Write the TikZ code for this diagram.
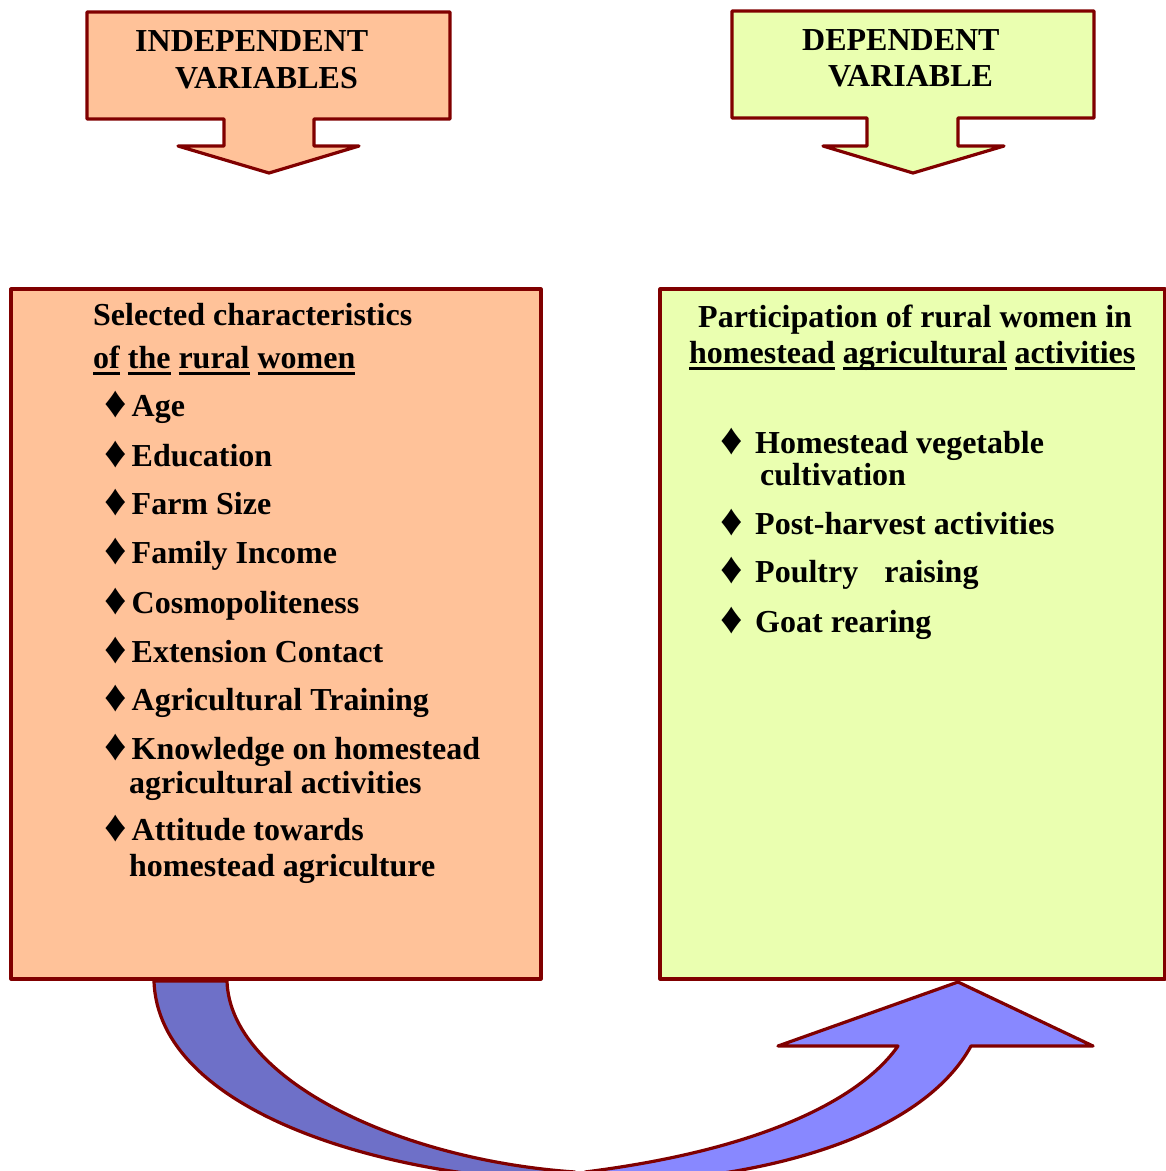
\documentclass[tikz,border=0pt]{standalone}
\usepackage{fontspec}
\setmainfont{Liberation Serif}
\definecolor{dred}{HTML}{800000}
\definecolor{peach}{HTML}{FFC299}
\definecolor{lgreen}{HTML}{EAFFB0}
\definecolor{blueL}{HTML}{6E70C8}
\definecolor{blueR}{HTML}{8888FF}
\newcommand\dm{\raisebox{-1pt}{\scalebox{1.38}{♦}}}
\newcommand\dmi{\dm\hspace{5pt}}
\newsavebox\ulbox
\newcommand\ul[1]{\leavevmode\sbox\ulbox{#1}\rlap{\rule[-7pt]{\wd\ulbox}{3.5pt}}\usebox\ulbox}
\tikzset{
  outl/.style={draw=dred, line width=3.2pt, line join=round},
  lbl/.style={anchor=base west, inner sep=0pt, font=\fontsize{32}{38}\selectfont\bfseries},
}
\begin{document}
\begin{tikzpicture}[x=1pt,y=-1pt]
\useasboundingbox (0,0) rectangle (1166,1171);
\clip (0,0) rectangle (1166,1171);
% top callouts
\path[outl, fill=peach] (87,12) -- (450,12) -- (450,119) -- (314,119) -- (314,146) -- (359,146) -- (269,173) -- (178,146) -- (224,146) -- (224,119) -- (87,119) -- cycle;
\path[outl, fill=lgreen] (732,11) -- (1094,11) -- (1094,118) -- (958,118) -- (958,146) -- (1004,146) -- (913,173) -- (823,146) -- (867,146) -- (867,118) -- (732,118) -- cycle;
\node[lbl] (t1) at (135,51) {INDEPENDENT};
\node[lbl] (t2) at (175,88) {VARIABLES};
\node[lbl] (t3) at (802,50) {DEPENDENT};
\node[lbl] (t4) at (828,86) {VARIABLE};
% boxes
\path[outl, fill=peach] (11,289) rectangle (541,979);
\path[outl, fill=lgreen] (660,289) rectangle (1165,979);
% left text
\node[lbl] (lh1) at (93,325) {Selected characteristics};
\node[lbl] (lh2) at (93,368) {\ul{of} \ul{the} \ul{rural} \ul{women}};
\node[lbl] (l1) at (104,416) {\dmi Age};
\node[lbl] (l2) at (104,466) {\dmi Education};
\node[lbl] (l3) at (104,514) {\dmi Farm Size};
\node[lbl] (l4) at (104,563) {\dmi Family Income};
\node[lbl] (l5) at (104,613) {\dmi Cosmopoliteness};
\node[lbl] (l6) at (104,662) {\dmi Extension Contact};
\node[lbl] (l7) at (104,710) {\dmi Agricultural Training};
\node[lbl] (l8) at (104,759) {\dmi Knowledge on homestead};
\node[lbl] (l8b) at (129,793) {agricultural activities};
\node[lbl] (l9) at (104,840) {\dmi Attitude towards};
\node[lbl] (l9b) at (129,876) {homestead agriculture};
% right text
\node[lbl] (rh1) at (698,327) {Participation of rural women in};
\node[lbl] (rh2) at (689,363) {\ul{homestead} \ul{agricultural} \ul{activities}};
\node[lbl] (r1d) at (720,453) {\dm};
\node[lbl] (r1) at (755,453) {Homestead vegetable};
\node[lbl] (r1b) at (760,485) {cultivation};
\node[lbl] (r2d) at (720,534) {\dm};
\node[lbl] (r2) at (755,534) {Post-harvest activities};
\node[lbl] (r3d) at (720,582) {\dm};
\node[lbl] (r3) at (755,582) {Poultry\hspace{18pt} raising};
\node[lbl] (r4d) at (720,632) {\dm};
\node[lbl] (r4) at (755,632) {Goat rearing};
% curved arrow
\path[outl, fill=blueL] (154,981) -- (227,981) .. controls (230,1080) and (400,1160) .. (575,1172) -- (575,1182) .. controls (380,1178) and (158,1110) .. (154,981) -- cycle;
\path[outl, fill=blueR] (585,1172) .. controls (760,1150) and (860,1100) .. (898,1046) -- (778,1046) -- (958,982) -- (1093,1046) -- (971,1046) .. controls (925,1130) and (780,1182) .. (585,1184) -- cycle;
\end{tikzpicture}
\end{document}
